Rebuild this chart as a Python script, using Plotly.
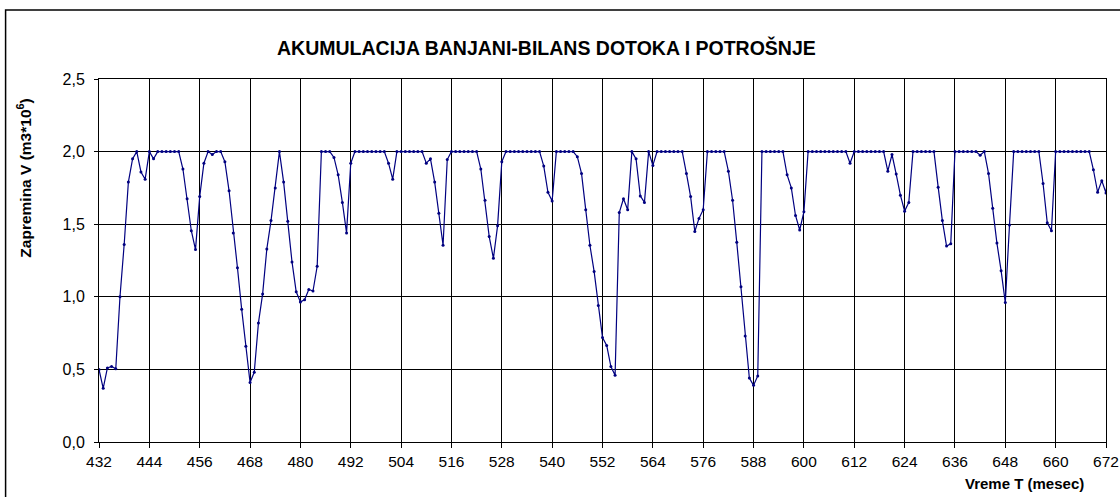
import plotly.graph_objects as go

# Months (x) and reservoir volume (y, m3*10^6)
start_month = 432
volume = [
    0.50, 0.37, 0.51, 0.52, 0.505, 1.00, 1.36, 1.79, 1.95, 2.00,   # 432-441
    1.86, 1.81, 2.00, 1.95, 2.00, 2.00, 2.00, 2.00, 2.00, 2.00,    # 442-451
    1.88, 1.675, 1.455, 1.325, 1.69, 1.92, 2.00, 1.98, 2.00, 2.00, # 452-461
    1.93, 1.73, 1.44, 1.20, 0.915, 0.66, 0.41, 0.48, 0.82, 1.02,   # 462-471
    1.33, 1.525, 1.75, 2.00, 1.79, 1.52, 1.24, 1.035, 0.965, 0.98, # 472-481
    1.05, 1.04, 1.21, 2.00, 2.00, 2.00, 1.96, 1.84, 1.65, 1.44,    # 482-491
    1.92, 2.00, 2.00, 2.00, 2.00, 2.00, 2.00, 2.00, 2.00, 1.92,    # 492-501
    1.81, 2.00, 2.00, 2.00, 2.00, 2.00, 2.00, 2.00, 1.92, 1.95,    # 502-511
    1.79, 1.575, 1.355, 1.945, 2.00, 2.00, 2.00, 2.00, 2.00, 2.00, # 512-521
    2.00, 1.88, 1.665, 1.415, 1.265, 1.49, 1.93, 2.00, 2.00, 2.00, # 522-531
    2.00, 2.00, 2.00, 2.00, 2.00, 2.00, 1.90, 1.72, 1.66, 2.00,    # 532-541
    2.00, 2.00, 2.00, 2.00, 1.965, 1.85, 1.60, 1.355, 1.175, 0.94, # 542-551
    0.72, 0.665, 0.52, 0.46, 1.58, 1.675, 1.60, 2.00, 1.95, 1.695, # 552-561
    1.65, 2.00, 1.905, 2.00, 2.00, 2.00, 2.00, 2.00, 2.00, 2.00,   # 562-571
    1.85, 1.69, 1.45, 1.54, 1.60, 2.00, 2.00, 2.00, 2.00, 2.00,    # 572-581
    1.865, 1.665, 1.375, 1.07, 0.73, 0.44, 0.39, 0.455, 2.00, 2.00, # 582-591
    2.00, 2.00, 2.00, 2.00, 1.84, 1.75, 1.56, 1.46, 1.585, 2.00,   # 592-601
    2.00, 2.00, 2.00, 2.00, 2.00, 2.00, 2.00, 2.00, 2.00, 1.92,    # 602-611
    2.00, 2.00, 2.00, 2.00, 2.00, 2.00, 2.00, 2.00, 1.865, 1.98,   # 612-621
    1.845, 1.70, 1.59, 1.65, 2.00, 2.00, 2.00, 2.00, 2.00, 2.00,   # 622-631
    1.755, 1.525, 1.35, 1.365, 2.00, 2.00, 2.00, 2.00, 2.00, 2.00, # 632-641
    1.975, 2.00, 1.85, 1.61, 1.37, 1.18, 0.96, 1.495, 2.00, 2.00,  # 642-651
    2.00, 2.00, 2.00, 2.00, 2.00, 1.78, 1.51, 1.455, 2.00, 2.00,   # 652-661
    2.00, 2.00, 2.00, 2.00, 2.00, 2.00, 2.00, 1.875, 1.72, 1.80,   # 662-671
    1.715, 2.00,                                                   # 672-673
]
months = list(range(start_month, start_month + len(volume)))

x_ticks = list(range(432, 673, 12))
y_ticks = [0.0, 0.5, 1.0, 1.5, 2.0, 2.5]

title_text = "AKUMULACIJA BANJANI-BILANS DOTOKA I POTROŠNJE"
x_title = "Vreme T (mesec)"
y_title = "Zapremina V (m3*10<sup>6</sup>)"

FONT = "Liberation Sans, Arial, sans-serif"
NAVY = "#000080"

fig = go.Figure()
fig.add_trace(go.Scatter(
    x=months, y=volume, mode="lines+markers",
    line=dict(color=NAVY, width=1.2),
    marker=dict(color=NAVY, size=3),
    showlegend=False, hoverinfo="skip",
))

W, H = 1120, 497
L, R, T, B = 98.5, 13.5, 79, 55.3
pw, ph = W - L - R, H - T - B

def px2paper_x(px):
    return (px - L) / pw

def px2paper_y(py):
    return (H - B - py) / ph

fig.update_layout(
    template="none",
    width=W, height=H,
    margin=dict(l=L, r=R, t=T, b=B, pad=0, autoexpand=False),
    paper_bgcolor="white", plot_bgcolor="white",
    separators=", ",
    font=dict(family=FONT, color="black", size=15),
    xaxis=dict(
        range=[432, 672], tickvals=x_ticks, ticks="outside", ticklen=5,
        tickcolor="black", showgrid=True, gridcolor="black", gridwidth=1,
        showline=True, linecolor="black", linewidth=1, mirror=True,
        zeroline=False, tickfont=dict(size=15.5), automargin=False,
    ),
    yaxis=dict(
        range=[0, 2.5], tickvals=y_ticks, tickformat=".1f", ticks="outside",
        ticklen=4, tickcolor="black", showgrid=True, gridcolor="black",
        gridwidth=1, showline=True, linecolor="black", linewidth=1,
        mirror=True, zeroline=False, tickfont=dict(size=16), automargin=False,
        ticklabelstandoff=6,
    ),
    shapes=[dict(
        type="rect", xref="paper", yref="paper",
        x0=px2paper_x(5), x1=px2paper_x(1130),
        y0=px2paper_y(510), y1=px2paper_y(10),
        line=dict(color="black", width=1.5), fillcolor="rgba(0,0,0,0)",
        layer="below",
    )],
    annotations=[
        dict(text="<b>" + title_text + "</b>", xref="paper", yref="paper",
             x=px2paper_x(546.5), y=px2paper_y(48), showarrow=False,
             xanchor="center", yanchor="middle", font=dict(size=19.5)),
        dict(text="<b>" + x_title + "</b>", xref="paper", yref="paper",
             x=px2paper_x(1086), y=px2paper_y(483), showarrow=False,
             xanchor="right", yanchor="middle", font=dict(size=15)),
        dict(text="<b>" + y_title + "</b>", xref="paper", yref="paper",
             x=px2paper_x(24), y=px2paper_y(178), showarrow=False,
             textangle=-90, xanchor="center", yanchor="middle",
             font=dict(size=15.5)),
    ],
)

fig.write_html(
    "out.html",
    config={"displayModeBar": False},
    post_script="document.body.style.margin='0';document.body.style.overflow='hidden';",
)
